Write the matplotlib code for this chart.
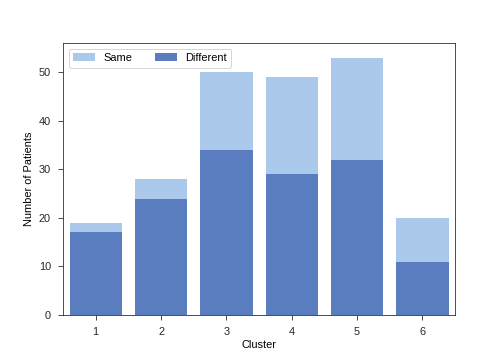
import colorsys
import numpy as np
import matplotlib
matplotlib.use("Agg")
import matplotlib.pyplot as plt
import matplotlib.colors as mcolors

clusters = [1, 2, 3, 4, 5, 6]
total = [19, 28, 50, 49, 53, 20]
different = [17, 24, 34, 29, 32, 11]


def desat(c, prop=0.75):
    h, l, s = colorsys.rgb_to_hls(*mcolors.to_rgb(c))
    return colorsys.hls_to_rgb(h, l, s * prop)


light = desat("#a1c9f4")
dark = desat("#4878d0")

plt.rcParams["font.family"] = ["Liberation Sans", "DejaVu Sans"]
plt.rcParams["font.size"] = 11

fig, ax = plt.subplots(figsize=(7, 5), dpi=72)
fig.subplots_adjust(left=0.125, right=0.903, bottom=0.125, top=0.88)
ax.bar(clusters, total, width=0.8, color=light, label="Same")
ax.bar(clusters, different, width=0.8, color=dark, label="Different")

ax.set_xlim(0.5, 6.5)
ax.set_ylim(0, 56)
ax.set_xticks(clusters)
ax.set_xlabel("Cluster", labelpad=3)
ax.set_ylabel("Number of Patients", labelpad=5)
ax.tick_params(direction="out", length=5, pad=7, color="#262626", labelcolor="#262626")
for sp in ax.spines.values():
    sp.set_color("#262626")
ax.legend(ncol=2, loc="upper left", frameon=True, fontsize=11)

fig.savefig("out.png", dpi=72)
